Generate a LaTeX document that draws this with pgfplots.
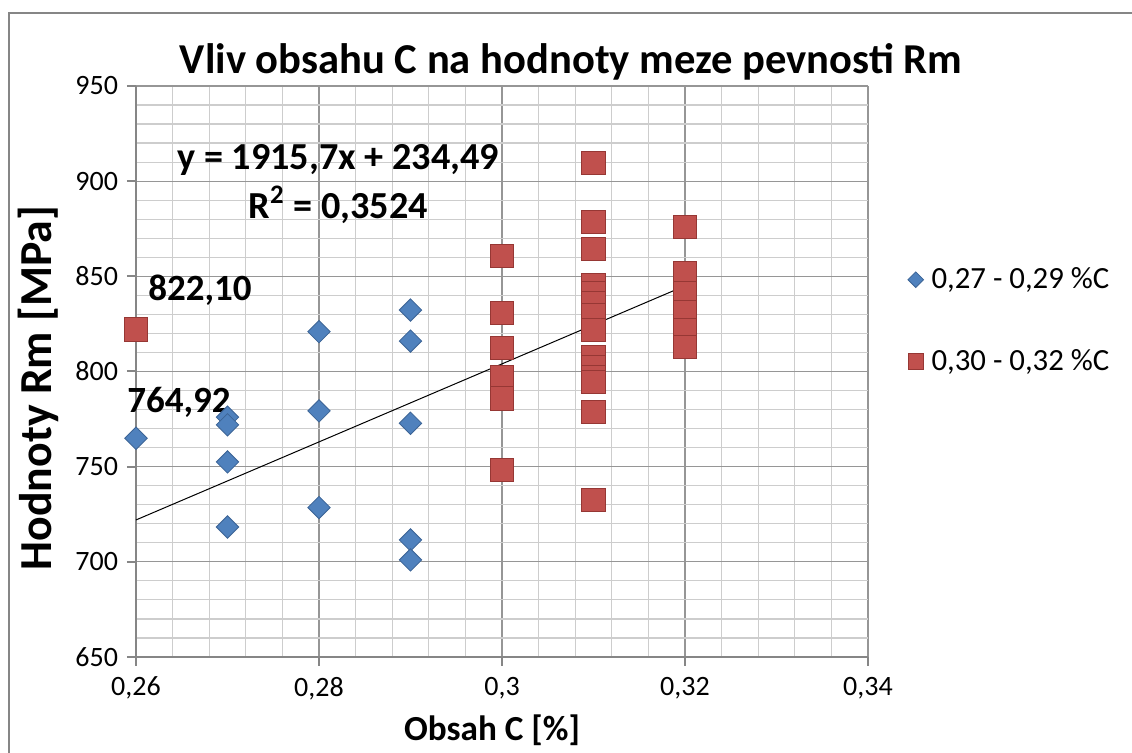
\documentclass[border=0pt]{standalone}
\usepackage{pgfplots}
\pgfplotsset{compat=1.18}
\usepackage{fontspec}
\setmainfont{Carlito}
\definecolor{blueS}{RGB}{79,129,189}
\definecolor{blueE}{RGB}{60,100,150}
\definecolor{redS}{RGB}{192,80,77}
\definecolor{redE}{RGB}{150,55,52}
\definecolor{axisC}{RGB}{134,134,134}
\definecolor{majG}{RGB}{150,150,150}
\definecolor{minG}{RGB}{205,205,205}
\begin{document}
\begin{tikzpicture}
\path[use as bounding box] (0pt,0pt) rectangle (566pt,376.5pt);
\draw[axisC, line width=1pt] (4.5pt,-5pt) -- (4.5pt,370pt) -- (571pt,370pt);
\begin{axis}[
  at={(68pt,48pt)}, anchor=south west,
  scale only axis, width=366pt, height=285.5pt,
  xmin=0.26, xmax=0.34, ymin=650, ymax=950,
  xtick={0.26,0.28,0.3,0.32,0.34},
  xticklabels={{0,26},{0,28},{0,3},{0,32},{0,34}},
  ytick={650,700,750,800,850,900,950},
  minor x tick num=4, minor y tick num=4,
  grid=both,
  major grid style={majG, line width=0.6pt},
  minor grid style={minG, line width=0.6pt},
  axis lines=left, axis line style={axisC, line width=1pt, -},
  tick style={axisC, line width=1pt},
  major tick length=4.5pt, minor tick length=0pt,
  tick align=outside,
  /pgf/number format/assume math mode=true,
  tick label style={font=\fontsize{14}{16}\selectfont, black},
  yticklabel style={xshift=-1pt},
  xticklabel style={yshift=-2pt},
  clip=false,
  legend style={draw=none, fill=none, font=\fontsize{15.4}{18}\selectfont,
    at={(axis description cs:1.054,0.686)}, anchor=north west,
    row sep=27pt, inner sep=0pt, nodes={inner sep=1pt},
    /tikz/every odd column/.append style={column sep=3pt}},
  legend cell align=left,
  legend image code/.code={\draw[#1, mark size=3.9pt] plot coordinates {(0.15cm,0cm)};},
]
\addplot[only marks, mark=diamond*, mark size=5.6pt,
  mark options={xscale=1.333, fill=blueS, draw=blueE, line width=0.4pt}]
  coordinates {
  (0.26,764.92) (0.27,776.0) (0.27,772.0) (0.27,752.5) (0.27,718.3)
  (0.28,820.9) (0.28,779.3) (0.28,728.5)
  (0.29,832.3) (0.29,816.0) (0.29,772.8) (0.29,711.5) (0.29,701.0)
  };
\addlegendentry{0,27 - 0,29 \%C}
\addplot[only marks, mark=square*, mark size=5.8pt,
  mark options={fill=redS, draw=redE, line width=0.4pt}]
  coordinates {
  (0.26,822.10)
  (0.30,860.7) (0.30,830.9) (0.30,812.2) (0.30,797.3) (0.30,785.9) (0.30,748.3)
  (0.31,909.4) (0.31,878.7) (0.31,864.2) (0.31,845.5) (0.31,841.1) (0.31,835.9)
  (0.31,829.7) (0.31,821.8) (0.31,807.8) (0.31,802.5) (0.31,797.3) (0.31,794.7)
  (0.31,778.9) (0.31,732.5)
  (0.32,876.1) (0.32,851.6) (0.32,841.1) (0.32,831.5) (0.32,821.8) (0.32,813.1)
  };
\addlegendentry{0,30 - 0,32 \%C}
\addplot[black, line width=0.5pt, forget plot] coordinates {(0.26,722) (0.32,845)};
\node[font=\fontsize{19.1}{21}\selectfont\bfseries] at (axis cs:0.2821,911.2) {y = 1915,7x + 234,49};
\node[font=\fontsize{19.1}{21}\selectfont\bfseries] at (axis cs:0.2821,887.5) {R\textsuperscript{2} = 0,3524};
\node[font=\fontsize{18.5}{20}\selectfont\bfseries] at (axis cs:0.2670,842.9) {822,10};
\node[font=\fontsize{18.5}{20}\selectfont\bfseries] at (axis cs:0.2647,784.0) {764,92};
\end{axis}
\node[font=\fontsize{21.3}{24}\selectfont\bfseries] at (285.5pt,345.5pt) {Vliv obsahu C na hodnoty meze pevnosti Rm};
\node[font=\fontsize{17.6}{20}\selectfont\bfseries] at (246pt,11.5pt) {Obsah C [\%]};
\node[font=\fontsize{22.9}{25}\selectfont\bfseries, rotate=90] at (19pt,182.5pt) {Hodnoty Rm [MPa]};
\end{tikzpicture}
\end{document}
